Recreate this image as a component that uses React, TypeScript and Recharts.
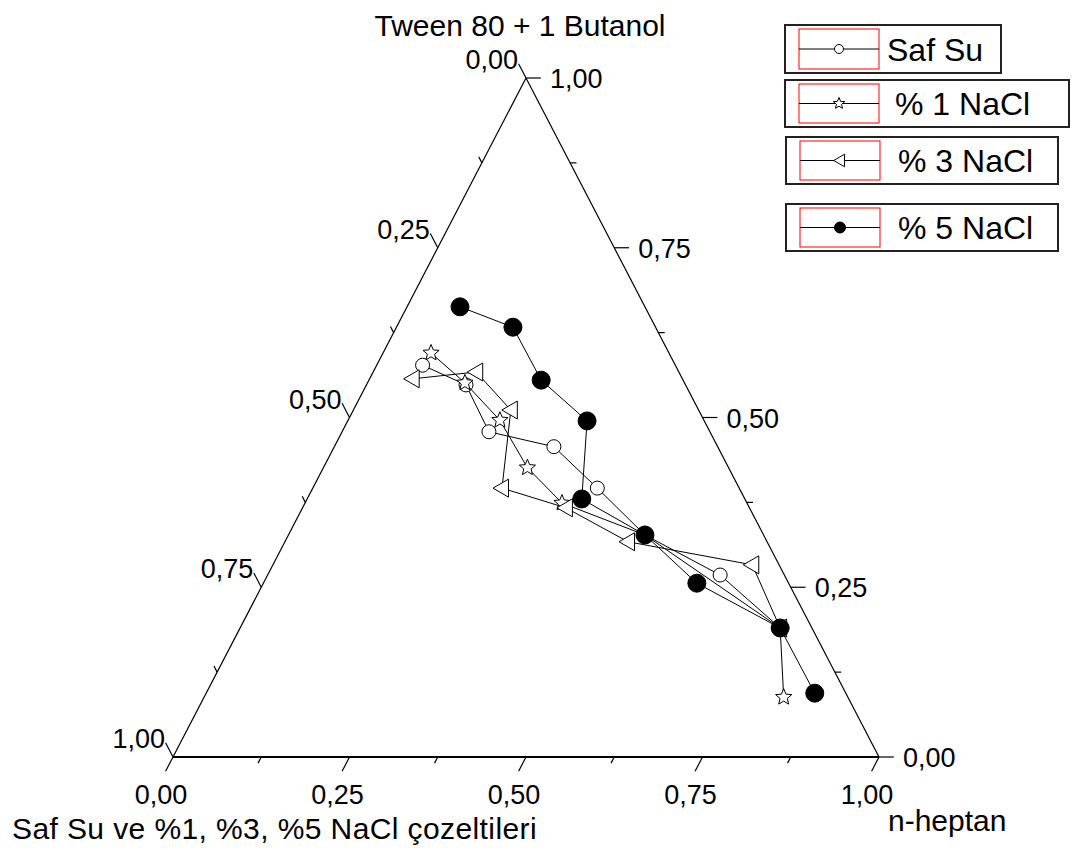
import { ScatterChart, Scatter, XAxis, YAxis, ReferenceLine, ReferenceDot } from "recharts";

const W = 1065;
const H = 842;
const FONT = '"Liberation Sans", Arial, sans-serif';

// compositions: n-heptan and Tween 80 + 1 Butanol fractions
// (water / brine fraction = 1 - both)
const safSuHeptan = [0.065, 0.141, 0.208, 0.311, 0.403, 0.505, 0.641, 0.765];
const safSuTween = [0.577, 0.548, 0.479, 0.457, 0.396, 0.327, 0.268, 0.19];

const nacl1Heptan = [0.068, 0.138, 0.215, 0.289, 0.364, 0.505, 0.765, 0.821];
const nacl1Tween = [0.595, 0.551, 0.496, 0.426, 0.374, 0.327, 0.19, 0.088];

const nacl3Heptan = [0.061, 0.146, 0.223, 0.268, 0.373, 0.486, 0.679, 0.765];
const nacl3Tween = [0.557, 0.567, 0.511, 0.396, 0.367, 0.317, 0.283, 0.19];

const nacl5Heptan = [0.075, 0.165, 0.244, 0.339, 0.389, 0.505, 0.614, 0.765, 0.862];
const nacl5Tween = [0.663, 0.633, 0.555, 0.495, 0.38, 0.327, 0.256, 0.19, 0.094];

const tickValues = [0, 0.25, 0.5, 0.75, 1];
const tickLabels = ["0,00", "0,25", "0,50", "0,75", "1,00"];
const minorTicks = [0.125, 0.375, 0.625, 0.875];

// ternary -> cartesian (h = heptan, s = tween)
const toXY = (h: number, s: number) => ({ x: h + s / 2, y: s });

const build = (hs: number[], ss: number[]) => hs.map((h, i) => toXY(h, ss[i]));

function OpenCircle({ cx, cy, r = 7 }: any) {
  return <circle cx={cx} cy={cy} r={r} fill="#fff" stroke="#000" strokeWidth={1} />;
}

function Star({ cx, cy, r = 8.5 }: any) {
  const pts: string[] = [];
  for (let i = 0; i < 10; i++) {
    const rad = i % 2 === 0 ? r : r * 0.45;
    const a = -Math.PI / 2 + (i * Math.PI) / 5;
    pts.push(`${cx + rad * Math.cos(a)},${cy + rad * Math.sin(a)}`);
  }
  return <polygon points={pts.join(" ")} fill="#fff" stroke="#000" strokeWidth={1} />;
}

function LeftTriangle({ cx, cy, k = 1 }: any) {
  const pts = `${cx - 9 * k},${cy} ${cx + 6.5 * k},${cy - 9 * k} ${cx + 6.5 * k},${cy + 9 * k}`;
  return <polygon points={pts} fill="#fff" stroke="#000" strokeWidth={1} />;
}

function Solid({ cx, cy, r = 9 }: any) {
  return <circle cx={cx} cy={cy} r={r} fill="#000" stroke="#000" strokeWidth={1} />;
}

const series = [
  { name: "Saf Su", data: build(safSuHeptan, safSuTween), Mark: OpenCircle, small: { r: 4.5 } },
  { name: "% 1 NaCl", data: build(nacl1Heptan, nacl1Tween), Mark: Star, small: { r: 6 } },
  { name: "% 3 NaCl", data: build(nacl3Heptan, nacl3Tween), Mark: LeftTriangle, small: { k: 0.7 } },
  { name: "% 5 NaCl", data: build(nacl5Heptan, nacl5Tween), Mark: Solid, small: { r: 5.5 } },
];

// legend boxes: outer frame, text start
const legendBoxes = [
  { x: 777, y: 17, w: 216, h: 48, tx: 879 },
  { x: 777, y: 72, w: 284, h: 47, tx: 887 },
  { x: 778, y: 129, w: 272, h: 47, tx: 890 },
  { x: 778, y: 196, w: 272, h: 47, tx: 890 },
];

const MAJOR = 0.021;
const MINOR = 0.009;

function tickSegments(values: number[], d: number) {
  const segs: { x: number; y: number }[][] = [];
  values.forEach((t) => {
    // bottom (n-heptan)
    segs.push([toXY(t, 0), toXY(t, -d)]);
    // right (Tween 80 + 1 Butanol)
    segs.push([toXY(1 - t, t), toXY(1 - t + d, t)]);
    // left (water)
    segs.push([toXY(0, 1 - t), toXY(-d, 1 - t + d)]);
  });
  return segs;
}

const labelStyle = { fontFamily: FONT, fontSize: 27, fill: "#000" };

export default function App() {
  const segs = [...tickSegments(tickValues, MAJOR), ...tickSegments(minorTicks, MINOR)];

  return (
    <div style={{ position: "relative", width: W, height: H }}>
      <ScatterChart width={W} height={H} margin={{ top: 70, right: 194, bottom: 93, left: 165 }}>
        <XAxis type="number" dataKey="x" domain={[0, 1]} hide />
        <YAxis type="number" dataKey="y" domain={[0, 1]} hide />

        <ReferenceLine segment={[toXY(0, 0), toXY(1, 0)]} stroke="#000" strokeWidth={2} ifOverflow="visible" />
        <ReferenceLine segment={[toXY(0, 0), toXY(0, 1)]} stroke="#000" strokeWidth={1.2} ifOverflow="visible" />
        <ReferenceLine segment={[toXY(1, 0), toXY(0, 1)]} stroke="#000" strokeWidth={1.2} ifOverflow="visible" />
        {segs.map((s, i) => (
          <ReferenceLine key={"t" + i} segment={s as any} stroke="#000" strokeWidth={1.2} ifOverflow="visible" />
        ))}

        {tickValues.map((t, i) => (
          <ReferenceDot
            key={"bl" + i}
            {...toXY(t, 0)}
            ifOverflow="visible"
            shape={(p: any) => (
              <text x={p.cx - 12} y={p.cy + 47} textAnchor="middle" {...labelStyle}>
                {tickLabels[i]}
              </text>
            )}
          />
        ))}
        {tickValues.map((t, i) => (
          <ReferenceDot
            key={"rl" + i}
            {...toXY(1 - t, t)}
            ifOverflow="visible"
            shape={(p: any) => (
              <text x={p.cx + 24} y={p.cy + 10} textAnchor="start" {...labelStyle}>
                {tickLabels[i]}
              </text>
            )}
          />
        ))}
        {tickValues.map((t, i) => (
          <ReferenceDot
            key={"ll" + i}
            {...toXY(0, 1 - t)}
            ifOverflow="visible"
            shape={(p: any) => (
              <text x={p.cx - 8} y={p.cy - 9} textAnchor="end" {...labelStyle}>
                {tickLabels[i]}
              </text>
            )}
          />
        ))}

        {series.map((s) => (
          <Scatter
            key={s.name}
            name={s.name}
            data={s.data}
            line={{ stroke: "#000", strokeWidth: 1 }}
            shape={(p: any) => <s.Mark cx={p.cx} cy={p.cy} />}
            isAnimationActive={false}
          />
        ))}
      </ScatterChart>

      <svg
        width={W}
        height={H}
        style={{ position: "absolute", left: 0, top: 0, pointerEvents: "none" }}
      >
        <text x={512} y={28} textAnchor="middle" fontFamily={FONT} fontSize={30}>
          Tween 80 + 1 Butanol
        </text>
        <text x={4} y={831} fontFamily={FONT} fontSize={30} letterSpacing={0.4}>
          Saf Su ve %1, %3, %5 NaCl çozeltileri
        </text>
        <text x={880} y={823} fontFamily={FONT} fontSize={30}>
          n-heptan
        </text>

        {series.map((s, i) => {
          const b = legendBoxes[i];
          const ly = b.y + b.h / 2;
          const rx = b.x + 14;
          const rw = 80;
          return (
            <g key={s.name}>
              <rect x={b.x} y={b.y} width={b.w} height={b.h} fill="#fff" stroke="#222" strokeWidth={2} />
              <rect x={rx} y={b.y + 4} width={rw} height={b.h - 8} fill="none" stroke="#ff0000" strokeWidth={1} />
              <line x1={rx} y1={ly} x2={rx + rw} y2={ly} stroke="#000" strokeWidth={1} />
              <s.Mark cx={rx + rw / 2} cy={ly} {...s.small} />
              <text x={b.tx} y={ly + 11.5} fontFamily={FONT} fontSize={32}>
                {s.name}
              </text>
            </g>
          );
        })}
      </svg>
    </div>
  );
}
